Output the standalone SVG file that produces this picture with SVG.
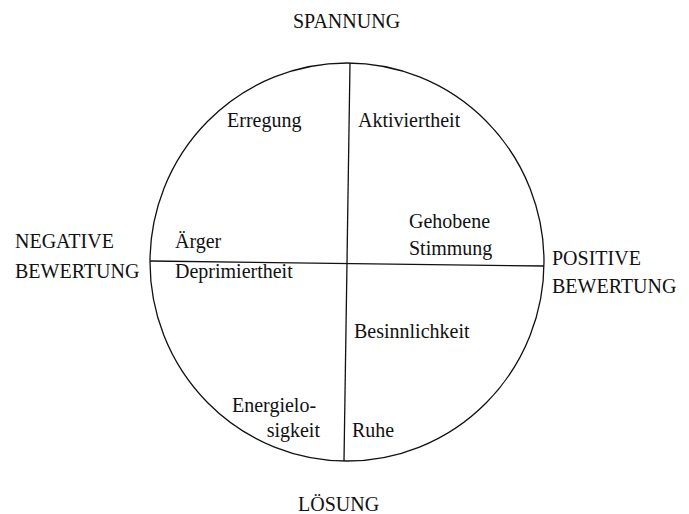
<svg xmlns="http://www.w3.org/2000/svg" width="689" height="514" viewBox="0 0 689 514">
<style>
text{font-family:"Liberation Serif","Times New Roman",serif;font-size:20px;fill:#111}
.ln{stroke:#111;stroke-width:1.3;fill:none}
</style>
<rect width="689" height="514" fill="#fff"/>
<g id="circle"><ellipse class="ln" cx="347" cy="262" rx="197" ry="199"/></g>
<g id="connectors">
<line class="ln" x1="350" y1="63" x2="344" y2="461"/>
<line class="ln" x1="150" y1="261" x2="544" y2="266"/>
</g>
<g id="spannung"><text x="293" y="28">SPANNUNG</text></g>
<g id="loesung"><text x="298" y="511">LÖSUNG</text></g>
<g id="negative"><text x="15" y="248">NEGATIVE</text><text x="15" y="278">BEWERTUNG</text></g>
<g id="positive"><text x="552" y="265">POSITIVE</text><text x="552" y="293">BEWERTUNG</text></g>
<g id="erregung"><text x="227" y="127">Erregung</text></g>
<g id="aktiviertheit"><text x="358" y="127">Aktiviertheit</text></g>
<g id="aerger"><text x="175" y="248">Ärger</text></g>
<g id="deprimiertheit"><text x="175" y="278">Deprimiertheit</text></g>
<g id="gehobene"><text x="409" y="228">Gehobene</text><text x="409" y="255">Stimmung</text></g>
<g id="besinnlichkeit"><text x="354" y="338">Besinnlichkeit</text></g>
<g id="energielosigkeit"><text x="232" y="412">Energielo-</text><text x="320" y="437" text-anchor="end">sigkeit</text></g>
<g id="ruhe"><text x="352" y="437">Ruhe</text></g>
</svg>
